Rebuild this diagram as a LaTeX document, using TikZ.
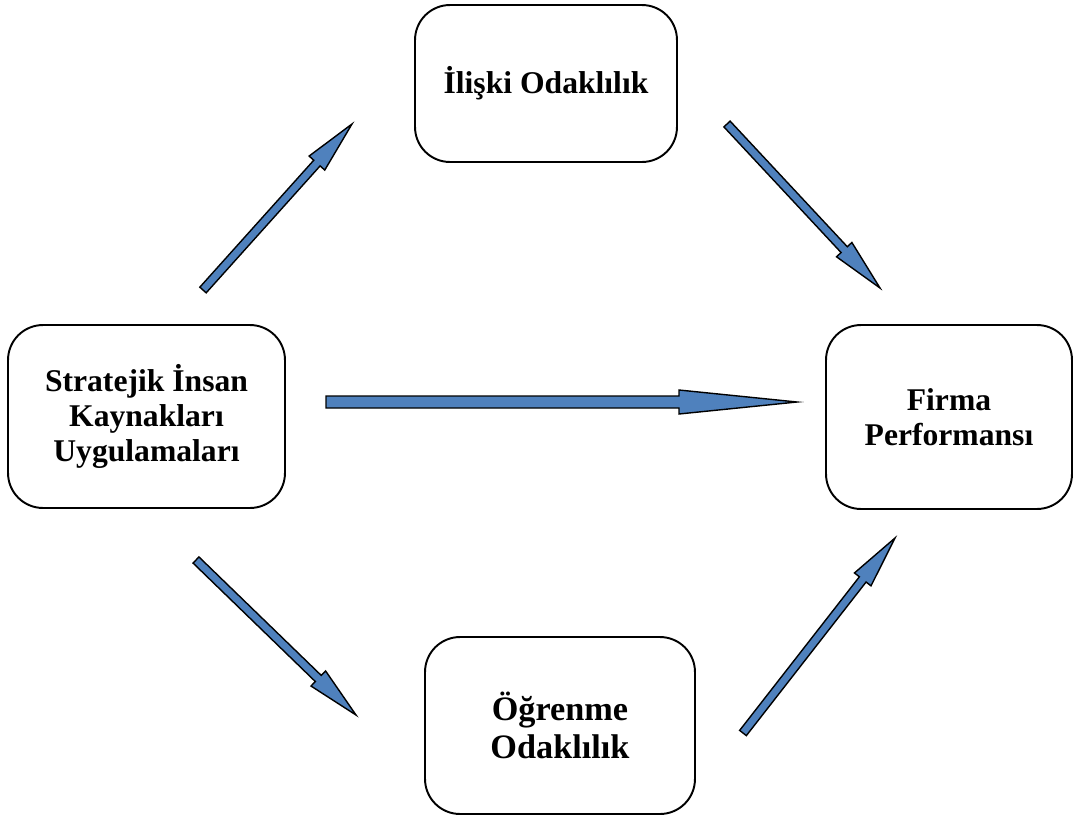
\documentclass[tikz,border=0pt]{standalone}
\usepackage{fontspec}
\setmainfont{Liberation Serif}
\usetikzlibrary{calc}

\definecolor{arrowblue}{HTML}{4F81BD}

\tikzset{
  kutu/.style={draw, line width=1.1pt, rounded corners=0.7cm, align=center,
    font=\bfseries\fontsize{18}{20}\selectfont},
  okgovde/.style={draw, fill=arrowblue, line width=0.8pt, line join=miter}
}

% blue block arrow: {tail}{tip}{head length}{shaft half width}{head half width}
\newcommand{\mavios}[5]{%
  \coordinate (okbas) at ($(#2)!#3!(#1)$);
  \draw[okgovde] ($(#1)!#4!90:(#2)$) -- ($(okbas)!#4!90:(#2)$)
    -- ($(okbas)!#5!90:(#2)$) -- (#2) -- ($(okbas)!#5!-90:(#2)$)
    -- ($(okbas)!#4!-90:(#2)$) -- ($(#1)!#4!-90:(#2)$) -- cycle;
}

\begin{document}
\begin{tikzpicture}[x=0.02cm, y=-0.02cm]
  \useasboundingbox (0,0) rectangle (1076,819);

  % boxes
  \node[kutu, minimum width=5.24cm, minimum height=3.14cm] (iliski) at (546,83.5) {İlişki Odaklılık};
  \node[kutu, minimum width=5.54cm, minimum height=3.66cm] (sik) at (146.5,416.5) {Stratejik İnsan\\Kaynakları\\Uygulamaları};
  \node[kutu, minimum width=4.92cm, minimum height=3.68cm] (firma) at (949,417) {Firma\\Performansı};
  \node[kutu, minimum width=5.4cm, minimum height=3.54cm,
    font=\bfseries\fontsize{19.5}{22}\selectfont] (ogrenme) at (560,725.5) {Öğrenme\\Odaklılık};

  % arrow ends
  \coordinate (sikUst) at (203,290);
  \coordinate (iliskiSol) at (352,124);
  \coordinate (iliskiSag) at (727,124);
  \coordinate (firmaUst) at (880,288);
  \coordinate (sikSag) at (326,402);
  \coordinate (firmaSol) at (797,402);
  \coordinate (sikAlt) at (196,560);
  \coordinate (ogrenmeSol) at (356,715);
  \coordinate (ogrenmeSag) at (743,733);
  \coordinate (firmaAlt) at (895,538);

  % arrows
  \mavios{sikUst}{iliskiSol}{1.05cm}{0.085cm}{0.21cm}
  \mavios{iliskiSag}{firmaUst}{1.05cm}{0.085cm}{0.21cm}
  \mavios{sikSag}{firmaSol}{2.36cm}{0.12cm}{0.24cm}
  \mavios{sikAlt}{ogrenmeSol}{1.05cm}{0.085cm}{0.21cm}
  \mavios{ogrenmeSag}{firmaAlt}{1.05cm}{0.085cm}{0.21cm}
\end{tikzpicture}
\end{document}
